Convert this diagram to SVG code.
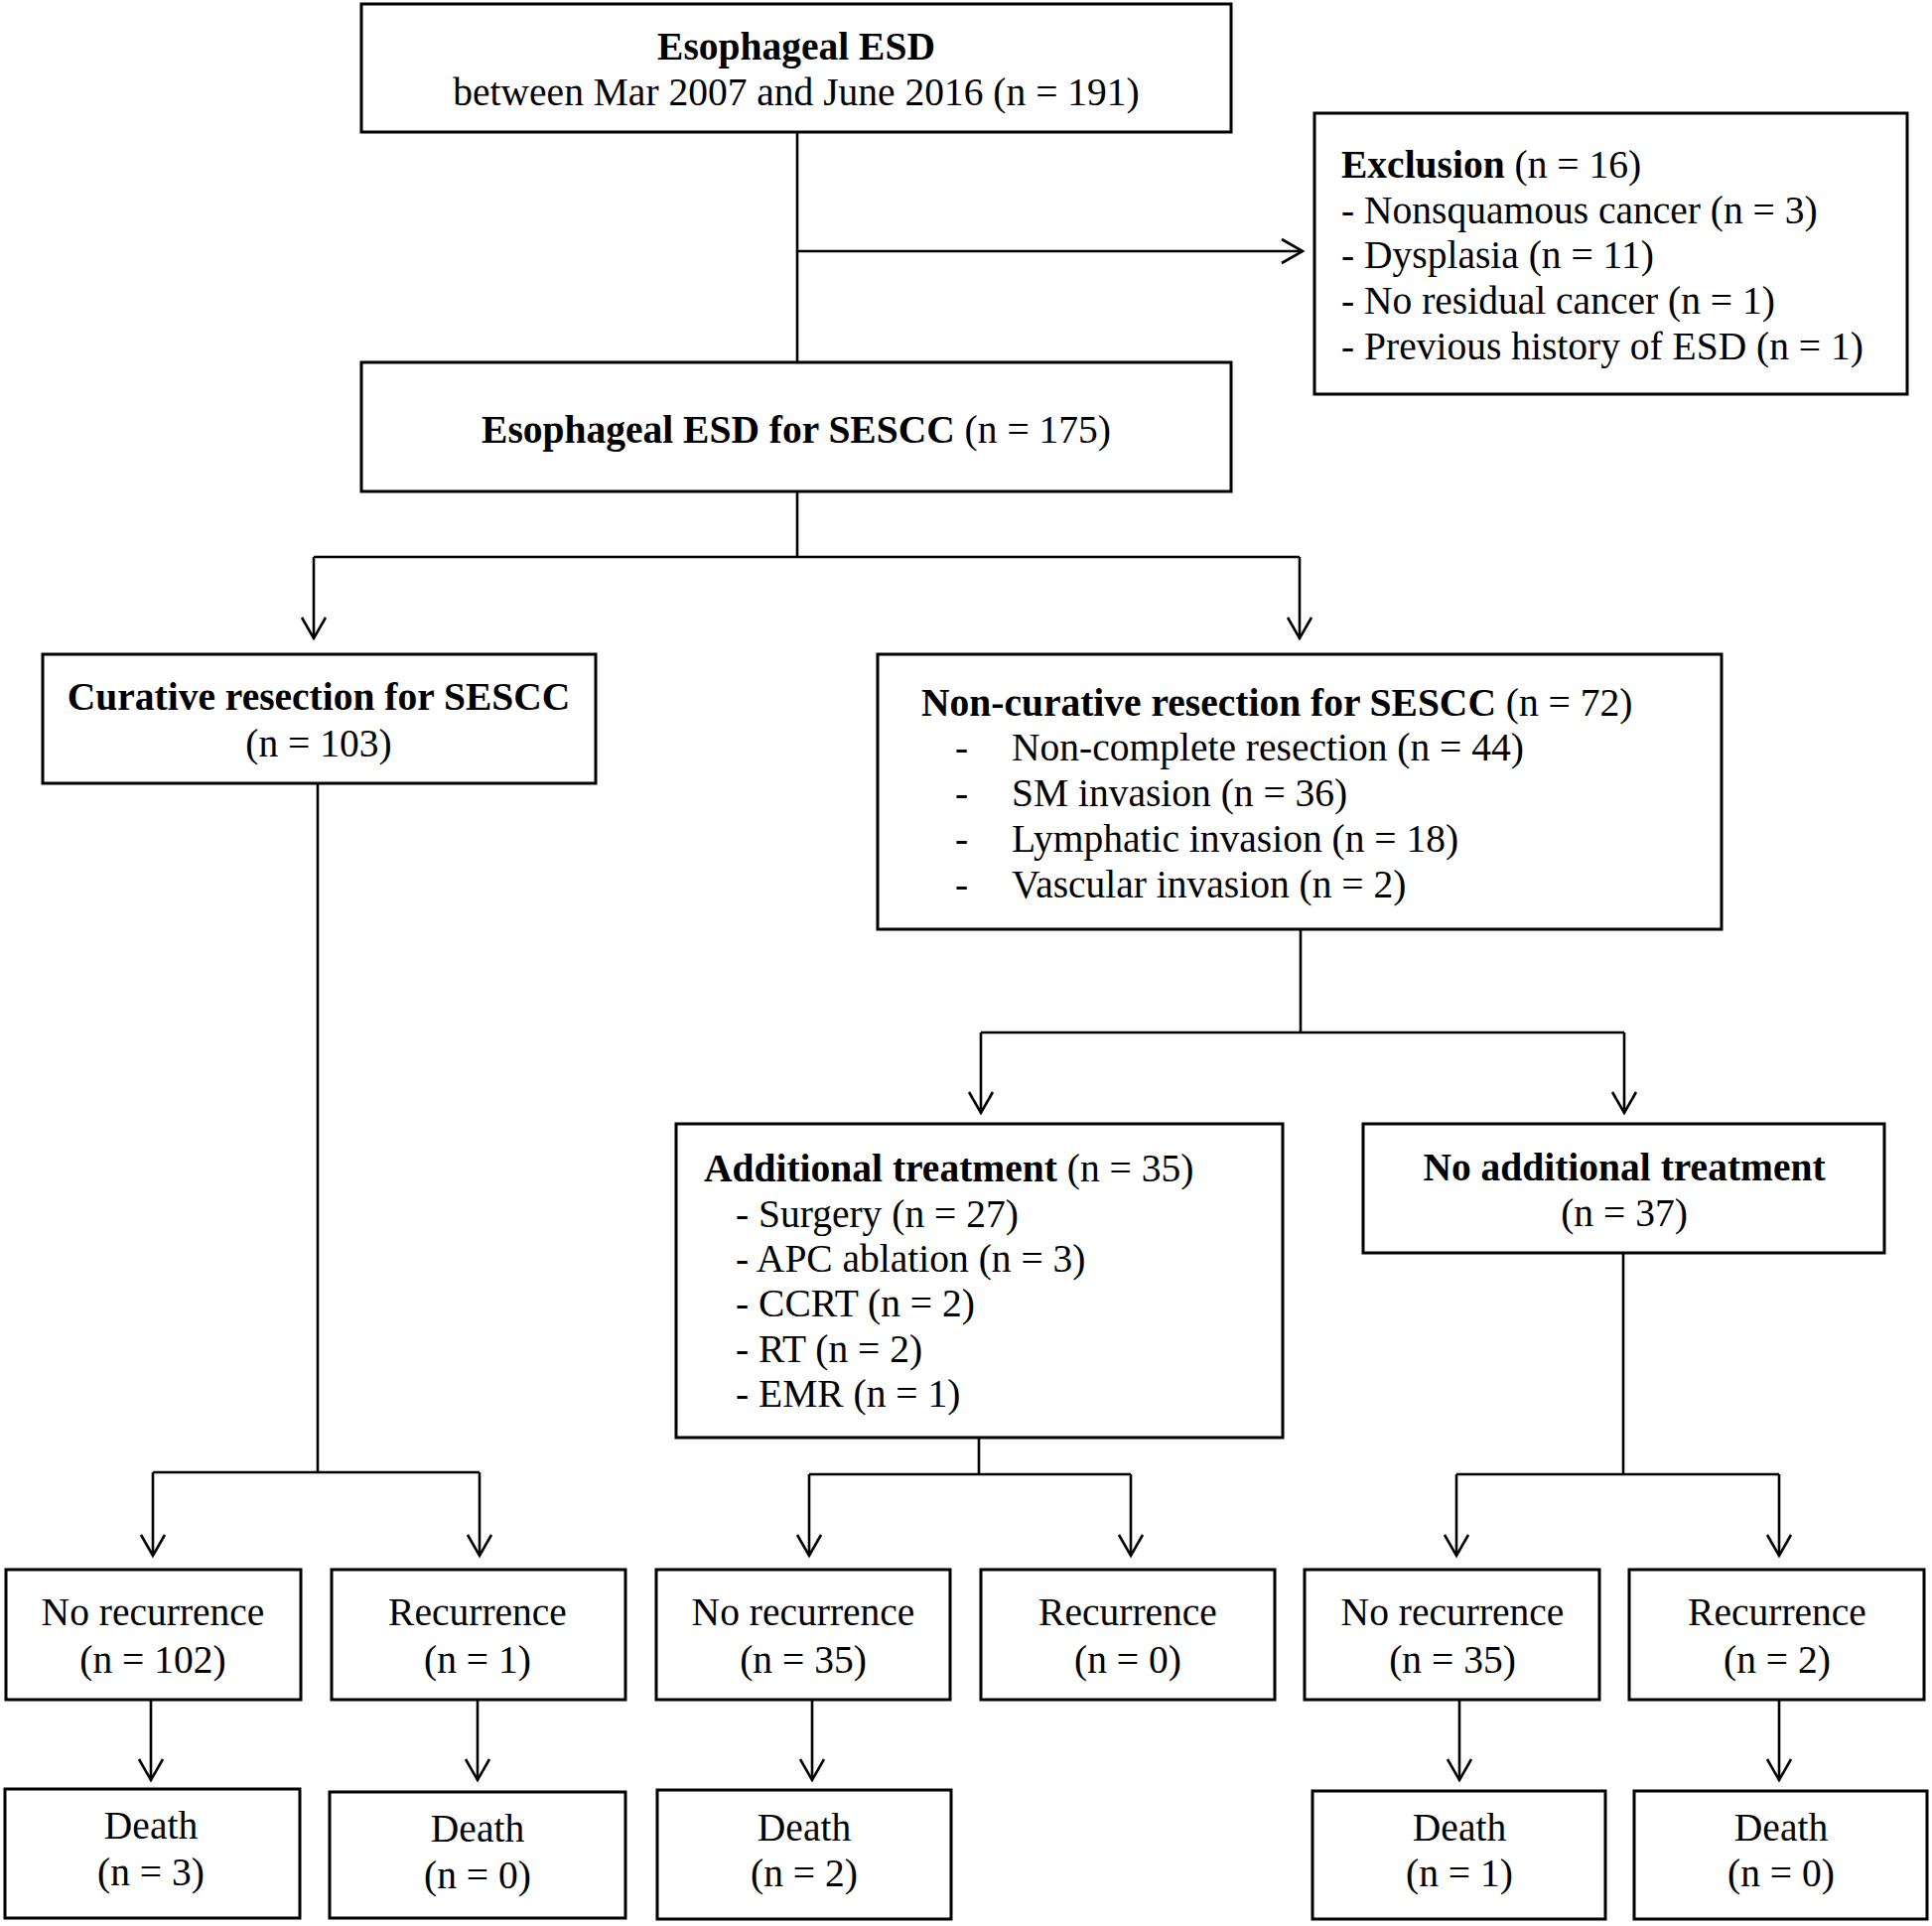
<svg xmlns="http://www.w3.org/2000/svg" width="1946" height="1940" viewBox="0 0 1946 1940">
<defs>
<style>
.box{fill:#fff;stroke:#000;stroke-width:3}
.ln{fill:none;stroke:#000;stroke-width:2.6}
.t{font-family:"Liberation Serif","Times New Roman",serif;font-size:39.5px;fill:#000}
.c{text-anchor:middle}
.b{font-weight:bold}
</style>
<marker id="ah" markerUnits="userSpaceOnUse" markerWidth="30" markerHeight="30" viewBox="-24 -15 28 30" refX="0" refY="0" orient="auto">
<path d="M-21,-12 L0,0 L-21,12" fill="none" stroke="#000" stroke-width="2.6"/>
</marker>
</defs>
<rect width="1946" height="1940" fill="#fff"/>
<g id="connectors">
<path class="ln" d="M803,133 V365"/>
<path class="ln" d="M803,253 H1312" marker-end="url(#ah)"/>
<path class="ln" d="M803,495 V561 M316,561 H1309"/>
<path class="ln" d="M316,561 V643" marker-end="url(#ah)"/>
<path class="ln" d="M1309,561 V643" marker-end="url(#ah)"/>
<path class="ln" d="M1310,936 V1040 M988,1040 H1636"/>
<path class="ln" d="M988,1040 V1121" marker-end="url(#ah)"/>
<path class="ln" d="M1636,1040 V1121" marker-end="url(#ah)"/>
<path class="ln" d="M320,789 V1483 M154,1483 H483"/>
<path class="ln" d="M154,1483 V1567" marker-end="url(#ah)"/>
<path class="ln" d="M483,1483 V1567" marker-end="url(#ah)"/>
<path class="ln" d="M986,1448 V1485 M815,1485 H1139"/>
<path class="ln" d="M815,1485 V1567" marker-end="url(#ah)"/>
<path class="ln" d="M1139,1485 V1567" marker-end="url(#ah)"/>
<path class="ln" d="M1635,1262 V1485 M1467,1485 H1792"/>
<path class="ln" d="M1467,1485 V1567" marker-end="url(#ah)"/>
<path class="ln" d="M1792,1485 V1567" marker-end="url(#ah)"/>
<path class="ln" d="M152,1712 V1793" marker-end="url(#ah)"/>
<path class="ln" d="M481,1712 V1793" marker-end="url(#ah)"/>
<path class="ln" d="M818,1712 V1793" marker-end="url(#ah)"/>
<path class="ln" d="M1470,1712 V1793" marker-end="url(#ah)"/>
<path class="ln" d="M1792,1712 V1793" marker-end="url(#ah)"/>
</g>
<g id="n-start">
<rect class="box" x="364" y="4" width="876" height="129"/>
<text class="t c b" x="802" y="60">Esophageal ESD</text>
<text class="t c" x="802" y="106">between Mar 2007 and June 2016 (n = 191)</text>
</g>
<g id="n-exclusion">
<rect class="box" x="1324" y="114" width="597" height="283"/>
<text class="t" x="1351" y="179"><tspan class="b">Exclusion</tspan> (n = 16)</text>
<text class="t" x="1351" y="225">- Nonsquamous cancer (n = 3)</text>
<text class="t" x="1351" y="270">- Dysplasia (n = 11)</text>
<text class="t" x="1351" y="316">- No residual cancer (n = 1)</text>
<text class="t" x="1351" y="362">- Previous history of ESD (n = 1)</text>
</g>
<g id="n-sescc">
<rect class="box" x="364" y="365" width="876" height="130"/>
<text class="t c" x="802" y="446"><tspan class="b">Esophageal ESD for SESCC</tspan> (n = 175)</text>
</g>
<g id="n-curative">
<rect class="box" x="43" y="659" width="557" height="130"/>
<text class="t c b" x="321" y="715">Curative resection for SESCC</text>
<text class="t c" x="321" y="762">(n = 103)</text>
</g>
<g id="n-noncurative">
<rect class="box" x="884" y="659" width="850" height="277"/>
<text class="t" x="928" y="721"><tspan class="b">Non-curative resection for SESCC</tspan> (n = 72)</text>
<text class="t" x="962" y="766">-</text><text class="t" x="1019" y="766">Non-complete resection (n = 44)</text>
<text class="t" x="962" y="812">-</text><text class="t" x="1019" y="812">SM invasion (n = 36)</text>
<text class="t" x="962" y="858">-</text><text class="t" x="1019" y="858">Lymphatic invasion (n = 18)</text>
<text class="t" x="962" y="904">-</text><text class="t" x="1019" y="904">Vascular invasion (n = 2)</text>
</g>
<g id="n-additional">
<rect class="box" x="681" y="1132" width="611" height="316"/>
<text class="t" x="709" y="1190"><tspan class="b">Additional treatment</tspan> (n = 35)</text>
<text class="t" x="741" y="1236">- Surgery (n = 27)</text>
<text class="t" x="741" y="1281">- APC ablation (n = 3)</text>
<text class="t" x="741" y="1326">- CCRT (n = 2)</text>
<text class="t" x="741" y="1372">- RT (n = 2)</text>
<text class="t" x="741" y="1417">- EMR (n = 1)</text>
</g>
<g id="n-noadditional">
<rect class="box" x="1373" y="1132" width="525" height="130"/>
<text class="t c b" x="1636" y="1189">No additional treatment</text>
<text class="t c" x="1636" y="1235">(n = 37)</text>
</g>
<g id="n-norec1">
<rect class="box" x="6" y="1581" width="297" height="131"/>
<text class="t c" x="154" y="1637">No recurrence</text>
<text class="t c" x="154" y="1685">(n = 102)</text>
</g>
<g id="n-rec1">
<rect class="box" x="334" y="1581" width="296" height="131"/>
<text class="t c" x="481" y="1637">Recurrence</text>
<text class="t c" x="481" y="1685">(n = 1)</text>
</g>
<g id="n-norec2">
<rect class="box" x="661" y="1581" width="296" height="131"/>
<text class="t c" x="809" y="1637">No recurrence</text>
<text class="t c" x="809" y="1685">(n = 35)</text>
</g>
<g id="n-rec2">
<rect class="box" x="988" y="1581" width="296" height="131"/>
<text class="t c" x="1136" y="1637">Recurrence</text>
<text class="t c" x="1136" y="1685">(n = 0)</text>
</g>
<g id="n-norec3">
<rect class="box" x="1314" y="1581" width="297" height="131"/>
<text class="t c" x="1463" y="1637">No recurrence</text>
<text class="t c" x="1463" y="1685">(n = 35)</text>
</g>
<g id="n-rec3">
<rect class="box" x="1641" y="1581" width="297" height="131"/>
<text class="t c" x="1790" y="1637">Recurrence</text>
<text class="t c" x="1790" y="1685">(n = 2)</text>
</g>
<g id="n-death1">
<rect class="box" x="5" y="1802" width="297" height="130"/>
<text class="t c" x="152" y="1852">Death</text>
<text class="t c" x="152" y="1899">(n = 3)</text>
</g>
<g id="n-death2">
<rect class="box" x="332" y="1805" width="298" height="127"/>
<text class="t c" x="481" y="1855">Death</text>
<text class="t c" x="481" y="1902">(n = 0)</text>
</g>
<g id="n-death3">
<rect class="box" x="662" y="1803" width="296" height="130"/>
<text class="t c" x="810" y="1854">Death</text>
<text class="t c" x="810" y="1900">(n = 2)</text>
</g>
<g id="n-death4">
<rect class="box" x="1322" y="1804" width="295" height="129"/>
<text class="t c" x="1470" y="1854">Death</text>
<text class="t c" x="1470" y="1900">(n = 1)</text>
</g>
<g id="n-death5">
<rect class="box" x="1646" y="1804" width="295" height="129"/>
<text class="t c" x="1794" y="1854">Death</text>
<text class="t c" x="1794" y="1900">(n = 0)</text>
</g>
</svg>
